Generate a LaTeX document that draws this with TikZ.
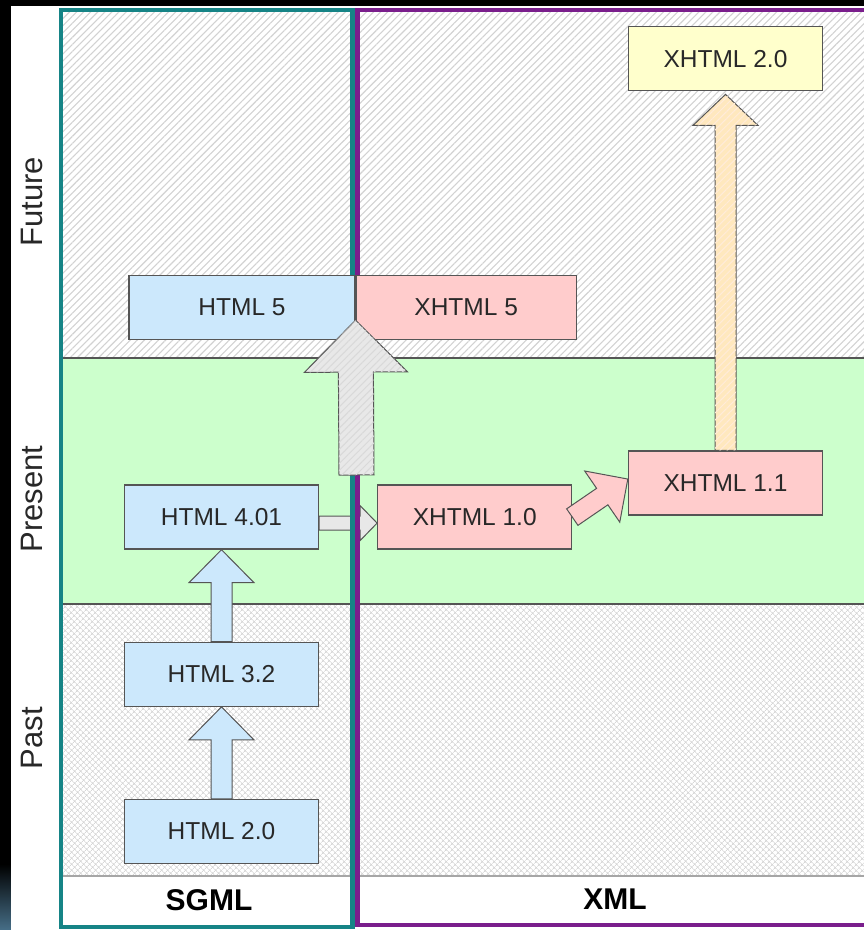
\documentclass[tikz,border=0pt]{standalone}
\usepackage{fontspec}
\setmainfont{Liberation Sans}
\usetikzlibrary{
        backgrounds,
        calc,
        patterns.meta,
        positioning
    }
\definecolor{sgmlteal}{RGB}{22,132,134}
\definecolor{xmlpurple}{RGB}{122,30,140}
\definecolor{nowgreen}{RGB}{204,255,204}
\definecolor{htmlblue}{RGB}{204,232,252}
\definecolor{xhtmlpink}{RGB}{255,204,204}
\definecolor{nextyellow}{RGB}{255,255,204}
\definecolor{nexttan}{RGB}{255,232,190}
\definecolor{edgegray}{RGB}{85,85,85}
\definecolor{ink}{RGB}{40,40,40}
\tikzset{
    ver/.style={draw=edgegray, line width=1.2pt, minimum width=194pt, minimum height=64pt,
        inner sep=0pt, text=ink, font=\fontsize{24.5}{28}\selectfont},
    html/.style={ver, fill=htmlblue},
    xhtml/.style={ver, fill=xhtmlpink},
    era/.style={rotate=90, anchor=base, text=ink, font=\fontsize{31}{36}\selectfont},
    lang/.style={text=black, font=\bfseries\fontsize{30}{36}\selectfont},
    hatched/.style={postaction={pattern={Lines[angle=45,distance=5pt,line width=1pt]}, pattern color=#1}},
    fat/.style n args={3}{draw=edgegray, line width=1pt,
        to path={let \p1=(\tikztostart), \p2=(\tikztotarget),
            \n1={atan2(\y2-\y1,\x2-\x1)}, \n2={veclen(\x2-\x1,\y2-\y1)} in
            {[shift={(\p1)}, rotate=\n1]
              (0pt,-#1pt) -- ({\n2*1pt-#3pt},-#1pt) -- ({\n2*1pt-#3pt},-#2pt) -- ({\n2*1pt},0pt)
              -- ({\n2*1pt-#3pt},#2pt) -- ({\n2*1pt-#3pt},#1pt) -- (0pt,#1pt) -- cycle}}}
}

\begin{document}
\begin{tikzpicture}[x=1pt,y=1pt]
    \useasboundingbox (0,0) rectangle (864,930);
    % backdrop and the three eras
    \begin{scope}[on background layer]
        \fill[black] (0,0) rectangle (864,930);
        \shade[top color=black, bottom color={rgb,255:red,70;green,110;blue,135}] (0,0) rectangle (11,66);
        \fill[white] (11,0) rectangle (864,924);
        \fill[white, postaction={pattern={Lines[angle=45,distance=5pt,line width=1.1pt]}, pattern color=gray!35}]
            (61,572) rectangle (864,920);
        \fill[nowgreen] (61,326) rectangle (864,572);
        \fill[white, postaction={pattern={Hatch[angle=45,distance=4pt,line width=0.8pt]}, pattern color=gray!32}]
            (61,54) rectangle (864,326);
        \draw[edgegray, line width=1.2pt] (61,572) -- (864,572) (61,326) -- (864,326);
        \draw[gray!70, line width=2.5pt] (61,54) -- (864,54);
    \end{scope}

    % SGML and XML columns
    \draw[sgmlteal, line width=4.5pt] (61,3) rectangle (352.5,920);
    \draw[xmlpurple, line width=4.5pt] (864,920) -- (357.5,920) -- (357.5,5) -- (864,5);

    \node[html] (h20) at (221.5,98.5) {HTML 2.0};
    \node[html] (h32) [above=92pt of h20] {HTML 3.2};
    \node[html] (h401) [above=92pt of h32] {HTML 4.01};
    \node[xhtml] (x10) [right=58pt of h401] {XHTML 1.0};
    \node[xhtml] (x11) at (725.5,447) {XHTML 1.1};
    \node[ver, fill=nextyellow] (x20) [above=359pt of x11] {XHTML 2.0};
    \node[html, minimum width=226pt] (h5) at (242,622.5) {HTML 5};
    \node[xhtml, minimum width=220pt] (x5) [right=0pt of h5] {XHTML 5};
    \coordinate (g0) at (356.5,455);

    \begin{scope}[on background layer]
        \draw[fat={7}{17.5}{17}, fill=gray!18] ([yshift=-6pt]h401.east) to ([yshift=-6pt]x10.west);
    \end{scope}
    \draw[fat={10.5}{32.5}{33}, fill=htmlblue] (h20.north) to (h32.south);
    \draw[fat={10.5}{32.5}{33}, fill=htmlblue] (h32.north) to (h401.south);
    \draw[fat={17.5}{51.5}{52}, fill=gray!18, hatched=gray!30] (g0) to ([yshift=20pt]h5.south east);
    \draw[fat={10}{31}{31}, fill=xhtmlpink] (x10.east) to ([yshift=4pt]x11.west);
    \draw[fat={10.5}{32.5}{31}, fill=nexttan, hatched=orange!15] (x11.north) to ([yshift=-3pt]x20.south);

    \node[era] (future) at (42,728) {Future};
    \node[era] (present) at (42,431) {Present};
    \node[era] (past) at (42,192) {Past};
    \node[lang] (sgml) at (209,30) {SGML};
    \node[lang] (xml) at (615,31) {XML};
\end{tikzpicture}
\end{document}
